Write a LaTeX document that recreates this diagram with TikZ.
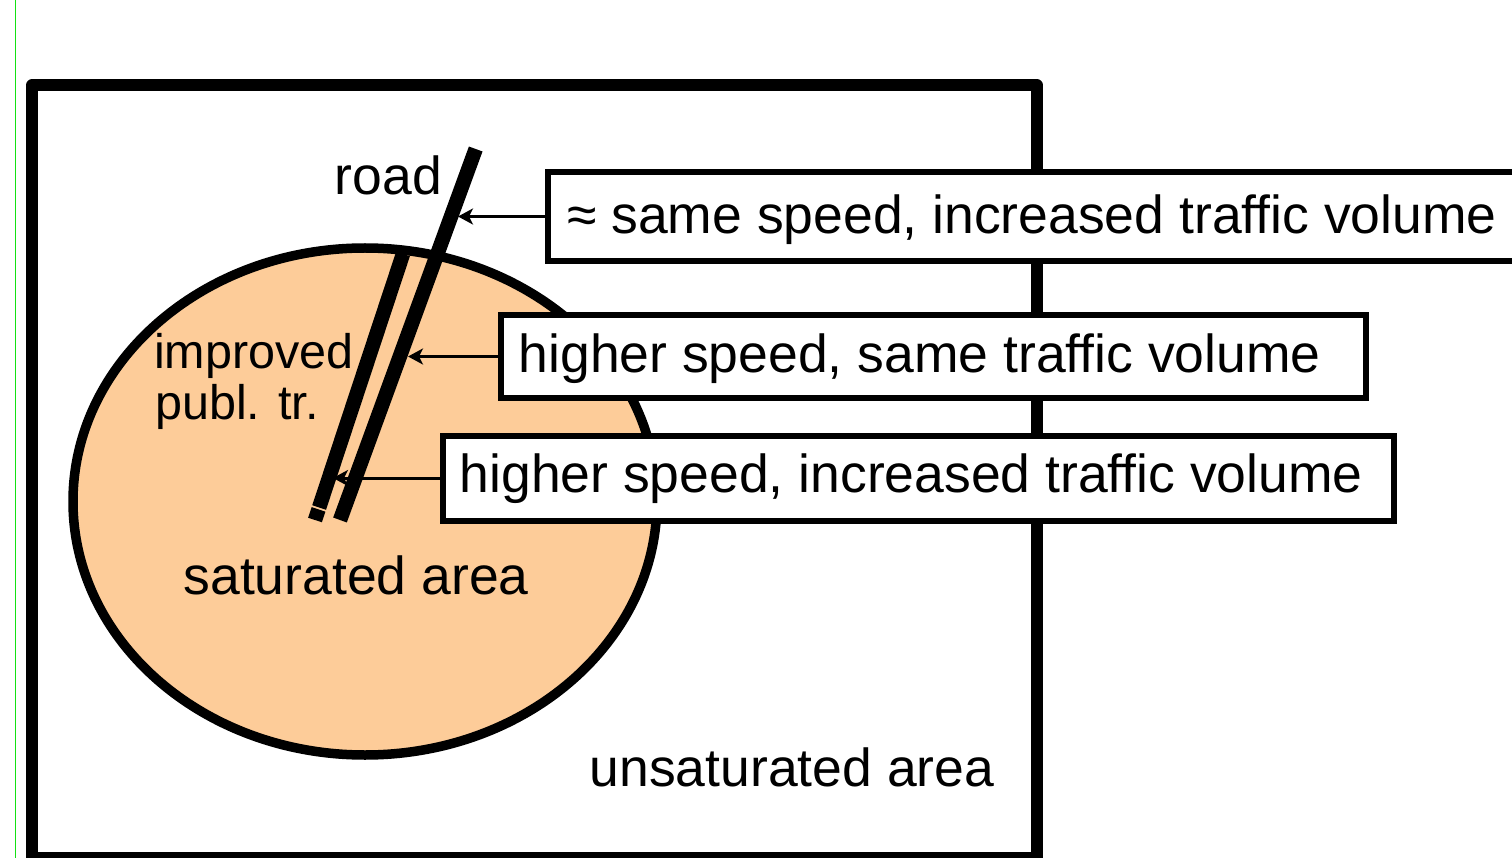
\documentclass[tikz,border=0pt]{standalone}
\usepackage{fontspec}
\setmainfont{Liberation Sans}
\usetikzlibrary{arrows.meta,calc}
\definecolor{peach}{RGB}{253,204,153}
\definecolor{edgegreen}{RGB}{20,225,20}
\begin{document}
\begin{tikzpicture}[x=1pt,y=-1pt,
  bigfont/.style={font=\fontsize{53.5}{60}\selectfont},
  midfont/.style={font=\fontsize{48.5}{50}\selectfont},
  lbl/.style={bigfont, inner sep=0pt, anchor=base west},
  ptlbl/.style={midfont, inner sep=0pt, anchor=base west},
  infobox/.style={draw=black, line width=6pt, fill=white, rectangle,
    inner sep=0pt, outer sep=0pt, anchor=north west},
  track/.style={line width=14.5pt},
  pointer/.style={line width=3pt, -{Stealth[length=15pt,width=16pt,inset=4pt]}},
]
\useasboundingbox (0,0) rectangle (1512,858);
\clip (0,0) rectangle (1512,858);

% thin margin rule on the left
\draw[edgegreen, line width=1.6pt] (15.5,0) -- (15.5,858);

% unsaturated area frame
\draw[line width=12pt, line join=round] (32,85.5) rectangle (1037,858);

% saturated area
\draw[fill=peach, line width=9.5pt] (365,501.5) ellipse [x radius=292, y radius=253.5];

% road and improved public transport line
\coordinate (roadtop) at (475.7,149);
\coordinate (roadend) at (340,520);
\coordinate (pttop) at (403,254);
\coordinate (ptend) at (315,520);
\draw[track] (roadtop) -- (roadend);
\draw[track, dash pattern=on 267pt off 2pt on 40pt] (pttop) -- (ptend);

% where the pointers touch the lines
\coordinate (hit1) at (458,218);
\coordinate (hit2) at (408,354);
\coordinate (hit3) at (333,480);

% effect boxes
\node[infobox, minimum width=982, minimum height=89] (b1) at (548,172) {};
\node[infobox, minimum width=865, minimum height=82] (b2) at (501,315.5) {};
\node[infobox, minimum width=951, minimum height=85] (b3) at (443,435.5) {};

\draw[pointer] (b1.west) -- (b1.west -| hit1);
\draw[pointer] (b2.west) -- (b2.west -| hit2);
\draw[pointer] (b3.west) -- (b3.west -| hit3);

\node[lbl] (t1) at (567,234) {≈ same speed, increased traffic volume};
\node[lbl] (t2) at (518.5,372.5) {higher speed, same traffic volume};
\node[lbl] (t3) at (459.5,492.5) {higher speed, increased traffic volume};

% area and line labels
\node[lbl] (roadlbl) at (334.5,195) {road};
\node[ptlbl] (ptlbl1) at (154,369) {improved};
\node[ptlbl] (ptlbl2) at (155,419) {publ. tr.};
\node[lbl] (satlbl) at (183.4,594) {saturated area};
\node[lbl] (unsatlbl) at (589.5,786) {unsaturated area};
\end{tikzpicture}
\end{document}
